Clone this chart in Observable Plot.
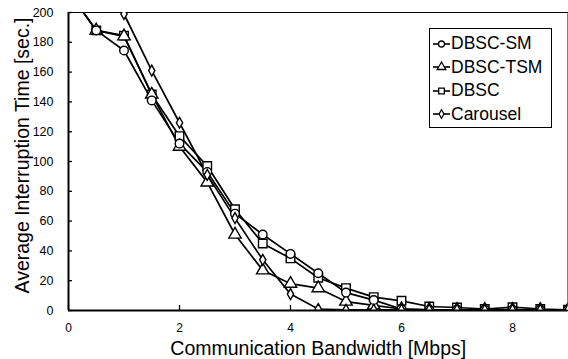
<!DOCTYPE html>
<html>
<head>
<meta charset="utf-8">
<script src="https://cdn.jsdelivr.net/npm/d3@7"></script>
<script src="https://cdn.jsdelivr.net/npm/@observablehq/plot@0.6"></script>
<style>
  html, body { margin: 0; padding: 0; background: white; }
  #chart { position: relative; width: 568px; height: 359px; font-family: "Liberation Sans", Arial, sans-serif; }
  #legend { position: absolute; left: 429px; top: 28px; width: 121px; height: 98px; border: 1.5px solid black; background: white; }
  .item { position: absolute; left: 0; height: 24px; display: flex; align-items: center; font-size: 17.5px; color: black; }
  .item svg { margin-left: 3px; margin-right: 1px; }
</style>
</head>
<body>
<div id="chart"></div>
<script>
const bandwidth = [0, 0.5, 1, 1.5, 2, 2.5, 3, 3.5, 4, 4.5, 5, 5.5, 6, 6.5, 7, 7.5, 8, 8.5, 9];
const seriesNames = ["DBSC-SM", "DBSC-TSM", "DBSC", "Carousel"];
const symbols = ["circle", "triangle", "square", "diamond"];
const dbscSM    = [214, 188, 174.5, 141, 112, 93, 65, 51, 38, 25, 12, 7, 1, 0.5, 0.5, 0.5, 0.5, 0.5, 0.5];
const dbscTSM   = [214, 188, 184, 145, 110, 86, 51, 27, 18, 15, 6, 3.5, 1, 0.5, 0.5, 0.5, 0.5, 0.5, 0.5];
const dbsc      = [214, 188, 184.5, 145, 117, 97, 68, 45, 35, 22, 15, 9, 6.5, 2.7, 2, 1, 2.2, 1, 0.5];
const carousel  = [260, 235, 199, 161, 126, 91, 62, 34, 11, 1, 0.5, 0.5, 0.5, 0.5, 0.5, 0.5, 0.5, 0.5, 0.5];
const xTicks = [0, 2, 4, 6, 8];
const yTicks = [0, 20, 40, 60, 80, 100, 120, 140, 160, 180, 200];
const xLabel = "Communication Bandwidth [Mbps]";
const yLabel = "Average Interruption Time [sec.]";

const allSeries = [dbscSM, dbscTSM, dbsc, carousel];
const rows = [];
allSeries.forEach((vals, si) => {
  vals.forEach((v, i) => rows.push({series: seriesNames[si], x: bandwidth[i], y: v}));
});
const markerR = {"DBSC-SM": 4.3, "DBSC-TSM": 4.6, "DBSC": 4.8, "Carousel": 3.3};

const font = '"Liberation Sans", Arial, sans-serif';
const plot = Plot.plot({
  width: 568,
  height: 359,
  marginTop: 12,
  marginRight: 0.5,
  marginBottom: 49,
  marginLeft: 68,
  style: {fontFamily: font, color: "black", background: "white", overflow: "visible"},
  x: {domain: [0, 9]},
  y: {domain: [0, 200]},
  r: {type: "identity"},
  symbol: {domain: seriesNames, range: symbols},
  marks: [
    Plot.frame({stroke: "black", strokeWidth: 1}),
    // inward tick marks
    Plot.axisX({ticks: xTicks, tickSize: -5, tickFormat: () => "", label: null, stroke: "black", strokeWidth: 1.3}),
    Plot.axisY({ticks: yTicks, tickSize: -4, tickFormat: () => "", label: null, stroke: "black", strokeWidth: 1.3}),
    // tick labels
    Plot.axisX({ticks: xTicks, tickSize: 0, tickPadding: 13, fontSize: 12, tickFormat: d => d, label: null}),
    Plot.axisY({ticks: yTicks, tickSize: 0, tickPadding: 15, fontSize: 12.5, tickFormat: d => d, label: null}),
    Plot.line(rows, {x: "x", y: "y", z: "series", stroke: "black", strokeWidth: 1.7, clip: true}),
    Plot.dot(rows, {x: "x", y: "y", symbol: "series", r: d => markerR[d.series], fill: "white", stroke: "black", strokeWidth: 1.4, clip: true}),
    Plot.ruleX([0], {stroke: "black", strokeWidth: 2}),
    Plot.ruleY([0], {stroke: "black", strokeWidth: 2}),
    Plot.text([xLabel], {frameAnchor: "bottom", dy: 44, fontSize: 19.5, fill: "black"}),
    Plot.text([yLabel], {frameAnchor: "left", textAnchor: "middle", dx: -46, dy: -6, rotate: -90, fontSize: 19.5, fill: "black"})
  ]
});
const chart = document.getElementById("chart");
chart.appendChild(plot);

// legend
const legend = document.createElement("div");
legend.id = "legend";
const sym = {circle: d3.symbolCircle, triangle: d3.symbolTriangle, square: d3.symbolSquare, diamond: d3.symbolDiamond};
const legR = {circle: 3, triangle: 3.2, square: 3.2, diamond: 2.6};
seriesNames.forEach((name, i) => {
  const item = document.createElement("div");
  item.className = "item";
  item.style.top = (2.5 + i * 23.5) + "px";
  const s = d3.create("svg").attr("width", 17).attr("height", 16);
  s.append("line").attr("x1", 0).attr("x2", 17).attr("y1", 8).attr("y2", 8).attr("stroke", "black").attr("stroke-width", 1.6);
  const rr = legR[symbols[i]];
  s.append("path").attr("d", d3.symbol(sym[symbols[i]], Math.PI * rr * rr)()).attr("transform", "translate(8.5,8)")
    .attr("fill", "white").attr("stroke", "black").attr("stroke-width", 1.3);
  item.appendChild(s.node());
  const t = document.createElement("span");
  t.textContent = name;
  item.appendChild(t);
  legend.appendChild(item);
});
chart.appendChild(legend);
</script>
</body>
</html>
